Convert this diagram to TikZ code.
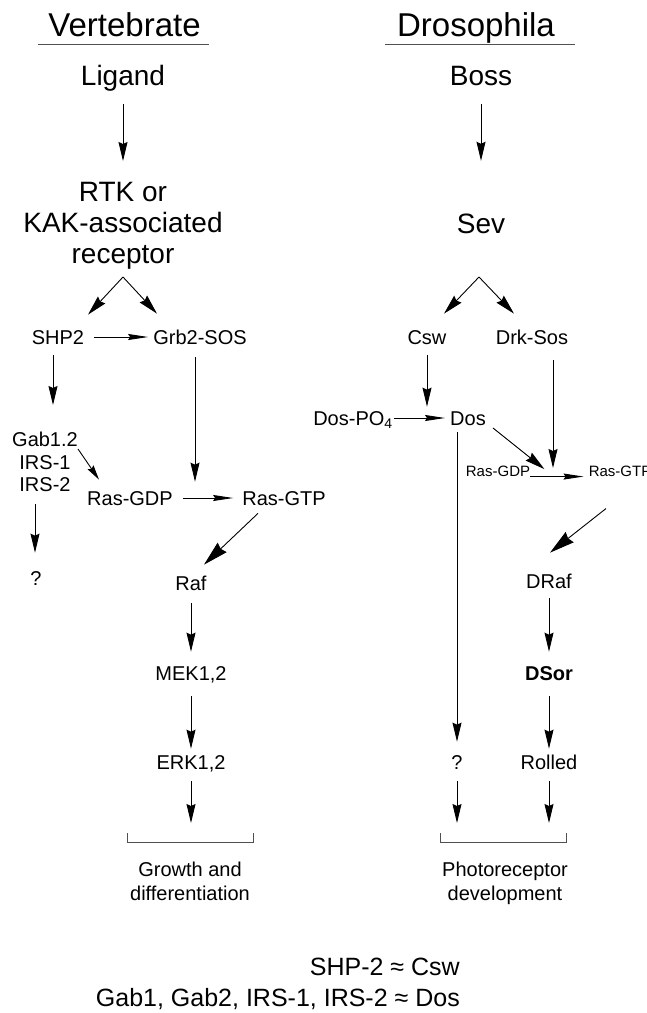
\documentclass[tikz,border=0pt]{standalone}
\usepackage{fontspec}
\setmainfont{Liberation Sans}
\usetikzlibrary{arrows.meta,positioning,calc}
\definecolor{rulGrey}{HTML}{505050}

\begin{document}
\begin{tikzpicture}[x=1pt,y=-1pt,
  hd/.style={font=\fontsize{33}{36}\selectfont,inner sep=0pt,text height=23.6pt,text depth=0pt},
  big/.style={font=\fontsize{28}{31}\selectfont,inner sep=0pt,text height=20pt,text depth=0pt},
  bigml/.style={font=\fontsize{28}{31}\selectfont,inner sep=0pt,align=center},
  mol/.style={font=\fontsize{20}{22.5}\selectfont,inner sep=0pt,text height=14.3pt,text depth=0pt},
  molml/.style={font=\fontsize{20}{22.5}\selectfont,inner sep=0pt,align=center},
  sml/.style={font=\fontsize{15}{18}\selectfont,inner sep=0pt,text height=10.7pt,text depth=0pt},
  outc/.style={font=\fontsize{20}{24}\selectfont,inner sep=0pt,align=center},
  arr/.style={-{Stealth[length=19pt,width=9pt,inset=2pt]},line width=0.9pt},
  arrs/.style={-{Stealth[length=15pt,width=7pt,inset=2pt]},line width=0.9pt},
  harr/.style={-{Stealth[length=20pt,width=6pt,inset=2pt]},line width=0.9pt},
  darr/.style={-{Stealth[length=20pt,width=10pt,inset=2pt]},line width=0.9pt},
  barr/.style={-{Stealth[length=25pt,width=13pt,inset=2pt]},line width=0.9pt},
  rul/.style={draw=rulGrey,line width=0.9pt}
]
  \useasboundingbox (0,0) rectangle (646,1013);

  % ── Headings ──────────────────────────────────────────────────────────────
  \node[hd] (vhead) at (124.5,24.5) {Vertebrate};
  \node[hd] (dhead) at (476,24.5)   {Drosophila};
  \draw[rul] ([xshift=-10pt,yshift=-8pt]vhead.south west) -- ([xshift=8pt,yshift=-8pt]vhead.south east);
  \draw[rul] ([xshift=-12pt,yshift=-8pt]dhead.south west) -- ([xshift=20pt,yshift=-8pt]dhead.south east);

  % ── Vertebrate pathway (left) ─────────────────────────────────────────────
  \node[big] (lig) at (123,75) {Ligand};
  \node[bigml,anchor=north] (rtk) at (123,182) {RTK or\\KAK-associated\\receptor};
  \coordinate (lfork) at (123,277);
  \node[mol] (shp)  at (58,337)  {SHP2};
  \node[mol] (grb)  at (200,337) {Grb2-SOS};
  \node[molml,anchor=north] (gab) at (45,432) {Gab1.2\\IRS-1\\IRS-2};
  \node[mol] (rgdp) at (130,498) {Ras-GDP};
  \node[mol] (rgtp) at (284,498) {Ras-GTP};
  \node[mol] (lqu)  at (36,578)  {?};
  \node[mol] (raf)  at (191,583) {Raf};
  \node[mol] (mek)  at (191,673) {MEK1,2};
  \node[mol] (erk)  at (191,762) {ERK1,2};
  \coordinate (lbrk) at (190,842);
  \node[outc,anchor=north] (grow) at (190,862) {Growth and\\differentiation};

  \draw[arr,shorten <=19pt,shorten >=21pt] (lig) -- (rtk.north);
  \draw[darr] (lfork) -- ([xshift=30pt,yshift=15pt]shp.north);
  \draw[darr] (lfork) -- ([xshift=-43pt,yshift=16pt]grb.north);
  \draw[harr,shorten <=10pt,shorten >=5pt] (shp) -- (grb);
  \draw[arr,shorten <=11pt,shorten >=27pt] ([xshift=-5pt]shp.south) -- ([xshift=8pt]gab.north);
  \draw[arrs] ([yshift=-17pt]gab.north east) -- ([xshift=12pt,yshift=11pt]rgdp.north west);
  \draw[arr,shorten <=13pt,shorten >=9pt] ([xshift=-5pt]grb.south) -- ([xshift=-5pt]grb.south |- rgtp.north);
  \draw[harr,shorten <=10pt,shorten >=9pt] (rgdp) -- (rgtp);
  \draw[arr,shorten <=12pt,shorten >=18pt] ([xshift=-10pt]gab.south) -- ([xshift=-1pt]lqu.north);
  \draw[barr] ([xshift=-26pt,yshift=-8pt]rgtp.south) -- ([xshift=13pt,yshift=11pt]raf.north);
  \draw[arr,shorten <=13pt,shorten >=14pt] (raf) -- (mek);
  \draw[arr,shorten <=16pt,shorten >=6pt] (mek) -- (erk);
  \draw[arr,shorten <=12pt,shorten >=19pt] (erk) -- (erk |- lbrk);
  \draw[rul] ([xshift=-63pt,yshift=9pt]lbrk) -- ([xshift=-63pt]lbrk) -- ([xshift=63pt]lbrk) -- ([xshift=63pt,yshift=9pt]lbrk);

  % ── Drosophila pathway (right) ────────────────────────────────────────────
  \node[big] (boss) at (481,75)  {Boss};
  \node[big] (sev)  at (481,223) {Sev};
  \coordinate (rfork) at (479,277);
  \node[mol] (csw)  at (427,337) {Csw};
  \node[mol] (drk)  at (532,337) {Drk-Sos};
  \node[mol] (dpo)  at (353,418) {Dos-PO\textsubscript{4}};
  \node[mol] (dos)  at (468,418) {Dos};
  \node[sml] (rsgdp) at (498,471) {Ras-GDP};
  \node[sml] (rsgtp) at (620,471) {Ras-GTP};
  \coordinate (rjoin) at (553,476);
  \node[mol] (draf) at (549,581) {DRaf};
  \node[mol,font=\fontsize{20}{22.5}\selectfont\bfseries] (dsor) at (549,673) {DSor};
  \node[mol] (rqu)  at (457,762) {?};
  \node[mol] (roll) at (549,762) {Rolled};
  \coordinate (rbrk) at (503,842);
  \node[outc,anchor=north] (photo) at (505,862) {Photoreceptor\\development};

  \draw[arr,shorten <=19pt,shorten >=52pt] (boss) -- (sev);
  \draw[darr] (rfork) -- ([xshift=17pt,yshift=16pt]csw.north);
  \draw[darr] (rfork) -- ([xshift=-18pt,yshift=16pt]drk.north);
  \draw[arr,shorten <=11pt,shorten >=4pt] (csw) -- (csw |- dos.north);
  \draw[harr,shorten <=1pt,shorten >=5pt] (dpo) -- (dos);
  \draw[arr,shorten <=7pt,shorten >=13pt] ([xshift=-11pt]dos.south) -- (rqu);
  \draw[darr,shorten >=11pt] ([xshift=7pt,yshift=-10pt]dos.east) -- (rjoin);
  \draw[arr,shorten <=16pt,shorten >=8pt] ([xshift=21pt]drk.south) -- (rjoin);
  \draw[harr,shorten >=5pt] (rsgdp.south east) -- (rsgtp.south west);
  \draw[barr] ([xshift=-14pt,yshift=-32pt]rsgtp.south) -- ([xshift=1pt,yshift=21pt]draf.north);
  \draw[arr,shorten <=10pt,shorten >=14pt] (draf) -- (dsor);
  \draw[arr,shorten <=16pt,shorten >=6pt] (dsor) -- (roll);
  \draw[arr,shorten <=12pt,shorten >=19pt] (rqu) -- (rqu |- rbrk);
  \draw[arr,shorten <=12pt,shorten >=19pt] (roll) -- (roll |- rbrk);
  \draw[rul] ([xshift=-63pt,yshift=9pt]rbrk) -- ([xshift=-63pt]rbrk) -- ([xshift=63pt]rbrk) -- ([xshift=63pt,yshift=9pt]rbrk);

  % ── Correspondences ───────────────────────────────────────────────────────
  \node[font=\fontsize{25}{31}\selectfont,inner sep=0pt,align=right,anchor=north east] (eqv) at (460,958)
    {SHP-2 ≈ Csw\\Gab1, Gab2, IRS-1, IRS-2 ≈ Dos};
\end{tikzpicture}
\end{document}
